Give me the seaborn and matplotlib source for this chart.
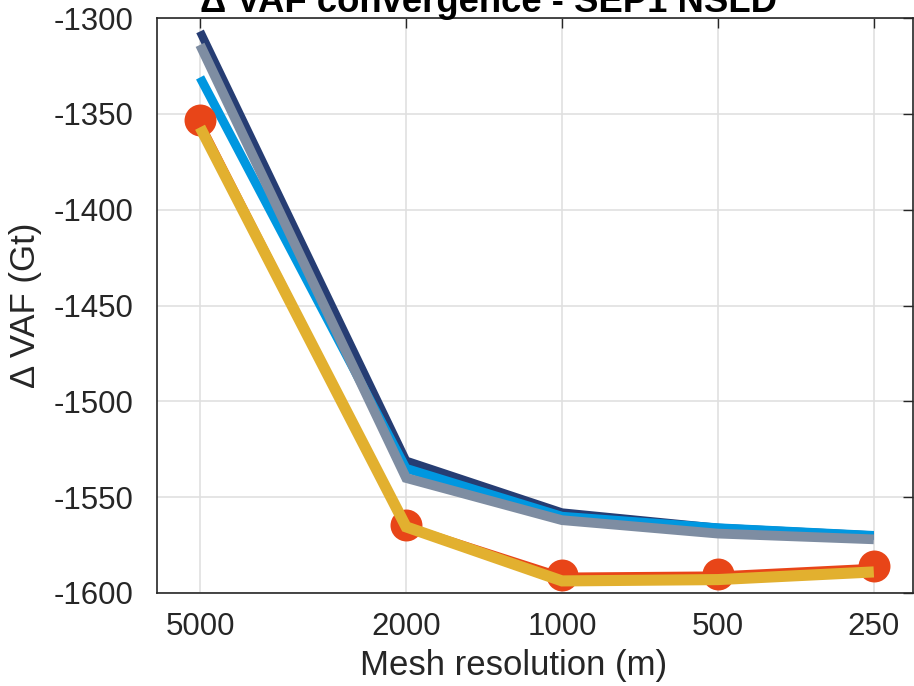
import matplotlib
matplotlib.use("Agg")
import matplotlib.pyplot as plt
import seaborn as sns
import pandas as pd
from matplotlib.ticker import FixedLocator, NullLocator

resolution = [5000, 2000, 1000, 500, 250]
navy = [-1307, -1531, -1558, -1566, -1570]
lightblue = [-1331, -1535, -1560, -1566, -1570]
gray = [-1314, -1540, -1562, -1569, -1572]
red = [-1353, -1564.5, -1590.6, -1590, -1586]
yellow = [-1357, -1565.5, -1593.7, -1593, -1589]

xticks = [5000, 2000, 1000, 500, 250]
yticks = [-1600, -1550, -1500, -1450, -1400, -1350, -1300]

sns.set_style("white")
plt.rcParams['font.family'] = ['Liberation Sans', 'DejaVu Sans']

fig = plt.figure(figsize=(9.14, 6.86), dpi=100)
ax = fig.add_axes([157/914, 1-593/686, (913-157)/914, (593-18)/686])

series = [
    (navy, "#263d73", 6, None),
    (lightblue, "#0097e0", 6.5, None),
    (gray, "#7e8da2", 7, None),
    (red, "#e84518", 3.5, "o"),
    (yellow, "#e2b02f", 8, None),
]
for vals, col, lw, mk in series:
    df = pd.DataFrame({"res": resolution, "vaf": vals})
    sns.lineplot(data=df, x="res", y="vaf", ax=ax, color=col, linewidth=lw,
                 marker=mk, markersize=23 if mk else 0, markeredgewidth=0,
                 solid_capstyle="butt", solid_joinstyle="miter", sort=False)

ax.set_xscale("log")
ax.set_xlim(6055, 210)
ax.set_ylim(-1600, -1300)
ax.xaxis.set_major_locator(FixedLocator(xticks))
ax.xaxis.set_minor_locator(NullLocator())
ax.set_xticklabels([str(t) for t in xticks])
ax.yaxis.set_major_locator(FixedLocator(yticks))
ax.set_yticklabels([str(t) for t in yticks])
ax.grid(True, color="#e0e0e0", linewidth=1.2)
ax.set_axisbelow(True)
ax.tick_params(direction="in", length=7, width=1, labelsize=22.5, colors="#262626",
               top=True, right=True)
ax.tick_params(axis="x", pad=14)
ax.tick_params(axis="y", pad=17)
for s in ax.spines.values():
    s.set_color("#262626")
    s.set_linewidth(1.2)
ax.set_xlabel("Mesh resolution (m)", fontsize=25, color="#262626")
ax.xaxis.set_label_coords((514-157)/756, -(649-593)/575)
ax.set_ylabel("\u0394 VAF (Gt)", fontsize=25, color="#262626", labelpad=8)
fig.text(488/914, 1-12/686, "\u0394 VAF convergence - SEP1 NSLD", ha="center",
         va="baseline", fontsize=26.3, fontweight="bold", color="black")

fig.savefig("out.png", dpi=100)
